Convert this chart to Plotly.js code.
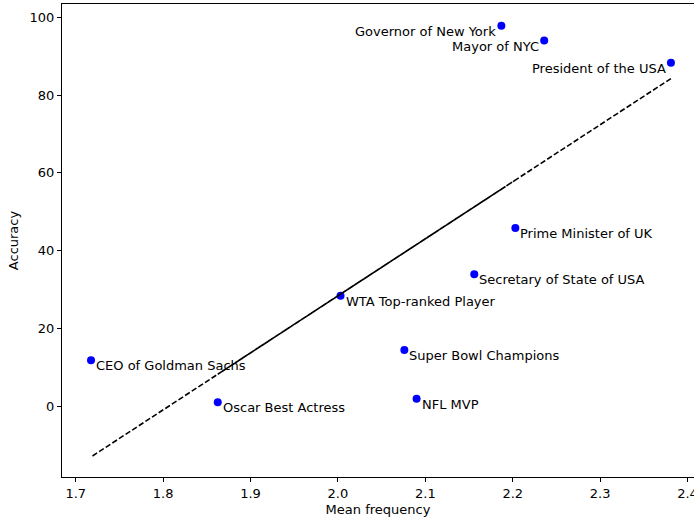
<!DOCTYPE html>
<html>
<head>
<meta charset="utf-8">
<script src="https://cdn.plot.ly/plotly-3.0.1.min.js"></script>
<style>
  html, body { margin: 0; padding: 0; background: #ffffff; }
  #chart { width: 694px; height: 521px; }
</style>
</head>
<body>
<div id="chart"></div>
<script>
// Roles and their mean frequency vs. accuracy
const roles = [
  "President of the USA",
  "Mayor of NYC",
  "WTA Top-ranked Player",
  "Prime Minister of UK",
  "Oscar Best Actress",
  "Governor of New York",
  "Secretary of State of USA",
  "Super Bowl Champions",
  "NFL MVP",
  "CEO of Goldman Sachs"
];
const meanFrequency = [2.381, 2.236, 2.003, 2.203, 1.8625, 2.187, 2.156, 2.076, 2.090, 1.7175];
const accuracy      = [88.3, 94.0, 28.4, 45.8, 1.0, 97.8, 33.9, 14.4, 1.9, 11.8];

// Labels placed to the left of the marker instead of the lower right
const leftLabels = ["Governor of New York", "Mayor of NYC", "President of the USA"];

const xTicks = [1.7, 1.8, 1.9, 2.0, 2.1, 2.2, 2.3, 2.4];
const yTicks = [0, 20, 40, 60, 80, 100];

// Least-squares line through the points
function linearFit(xs, ys) {
  const n = xs.length;
  const mx = xs.reduce((a, b) => a + b, 0) / n;
  const my = ys.reduce((a, b) => a + b, 0) / n;
  let sxy = 0, sxx = 0;
  for (let i = 0; i < n; i++) {
    sxy += (xs[i] - mx) * (ys[i] - my);
    sxx += (xs[i] - mx) * (xs[i] - mx);
  }
  const slope = sxy / sxx;
  return { slope: slope, intercept: my - slope * mx };
}
const fit = linearFit(meanFrequency, accuracy);
const fitY = meanFrequency.map(x => fit.slope * x + fit.intercept);

const FONT = { family: "DejaVu Sans, sans-serif", size: 13, color: "#000000" };

const traces = [
  {
    type: "scatter",
    mode: "markers",
    x: meanFrequency,
    y: accuracy,
    marker: { color: "#0000ff", size: 8, line: { width: 0 } },
    hoverinfo: "skip",
    showlegend: false
  },
  {
    // fitted values traced in data order, so the dashes overlap where it doubles back
    type: "scatter",
    mode: "lines",
    x: meanFrequency,
    y: fitY,
    line: { color: "#000000", width: 1.6, dash: "5.5px,2.4px", simplify: false },
    hoverinfo: "skip",
    showlegend: false
  }
];

const annotations = roles.map((name, i) => {
  const left = leftLabels.includes(name);
  return {
    x: meanFrequency[i],
    y: accuracy[i],
    xref: "x",
    yref: "y",
    text: name,
    showarrow: false,
    xanchor: left ? "right" : "left",
    yanchor: "top",
    xshift: left ? -3 : 3,
    yshift: 4,
    font: FONT
  };
});

const layout = {
  width: 694,
  height: 521,
  margin: { l: 62, r: 0, t: 4, b: 44, pad: 0 },
  paper_bgcolor: "#ffffff",
  plot_bgcolor: "#ffffff",
  font: FONT,
  showlegend: false,
  xaxis: {
    range: [1.6843, 2.4074],
    tickvals: xTicks,
    ticktext: xTicks.map(v => v.toFixed(1)),
    ticks: "outside",
    ticklen: 4,
    tickwidth: 1,
    tickcolor: "#000000",
    ticklabeloverflow: "allow",
    showline: true,
    mirror: true,
    linecolor: "#000000",
    linewidth: 1,
    showgrid: false,
    zeroline: false,
    tickfont: FONT,
    title: { text: "Mean frequency", font: FONT, standoff: 5 }
  },
  yaxis: {
    range: [-18.25, 103.42],
    tickvals: yTicks,
    ticktext: yTicks.map(String),
    ticks: "outside",
    ticklen: 4,
    tickwidth: 1,
    tickcolor: "#000000",
    showline: true,
    mirror: false,
    linecolor: "#000000",
    linewidth: 1,
    showgrid: false,
    zeroline: false,
    tickfont: FONT,
    title: { text: "Accuracy", font: FONT, standoff: 8 }
  },
  annotations: annotations
};

Plotly.newPlot("chart", traces, layout, { displayModeBar: false, staticPlot: true });
</script>
</body>
</html>
